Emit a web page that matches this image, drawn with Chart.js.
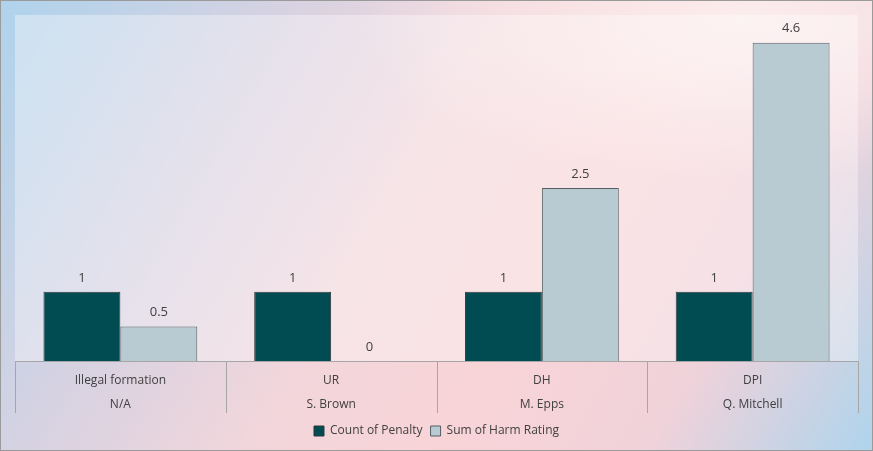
<!DOCTYPE html>
<html>
<head>
<meta charset="utf-8">
<script src="https://cdn.jsdelivr.net/npm/chart.js@4"></script>
<style>
  html, body { margin: 0; padding: 0; }
  body {
    width: 873px; height: 451px; overflow: hidden;
    background:
      radial-gradient(ellipse 45% 35% at 85% 5%, rgba(252,240,240,0.9) 0%, rgba(252,240,240,0) 100%),
      linear-gradient(120deg, #aed3ec 0%, #d6d2e2 25%, #f2d6db 45%, #f8d4d7 62%, #f0d2da 80%, #aed4ec 100%);
  }
  #wrap { position: relative; width: 873px; height: 451px; }
</style>
</head>
<body>
<div id="wrap"><canvas id="penalty-chart"></canvas></div>
<script>
  const penalties = ['Illegal formation', 'UR', 'DH', 'DPI'];
  const players = ['N/A', 'S. Brown', 'M. Epps', 'Q. Mitchell'];
  const countOfPenalty = [1, 1, 1, 1];
  const sumOfHarmRating = [0.5, 0, 2.5, 4.6];

  const labels = penalties.map((p, i) => [p, players[i]]);

  const backdrop = {
    id: 'backdrop',
    beforeDraw(chart) {
      const { ctx, chartArea: a } = chart;
      ctx.save();
      ctx.fillStyle = 'rgba(255,255,255,0.35)';
      ctx.fillRect(a.left, a.top, a.right - a.left, a.bottom - a.top);
      ctx.restore();
    },
    afterDraw(chart) {
      const { ctx, chartArea: a } = chart;
      const n = chart.data.labels.length;
      const step = (a.right - a.left) / n;
      ctx.save();
      ctx.strokeStyle = '#a6a6a6';
      ctx.lineWidth = 1;
      for (let i = 0; i <= n; i++) {
        const px = Math.round(a.left + step * i) + 0.5;
        ctx.beginPath();
        ctx.moveTo(px, a.bottom);
        ctx.lineTo(px, a.bottom + 52);
        ctx.stroke();
      }
      ctx.strokeStyle = '#9a9a9a';
      ctx.strokeRect(0.5, 0.5, chart.width - 1, chart.height - 1);
      ctx.restore();
    }
  };

  const valueLabels = {
    id: 'valueLabels',
    afterDatasetsDraw(chart) {
      const { ctx } = chart;
      ctx.save();
      ctx.font = '13px "Open Sans", sans-serif';
      ctx.fillStyle = '#404040';
      ctx.textAlign = 'center';
      ctx.textBaseline = 'middle';
      chart.data.datasets.forEach((ds, di) => {
        chart.getDatasetMeta(di).data.forEach((bar, i) => {
          ctx.fillText(String(ds.data[i]), bar.x, bar.y - 14);
        });
      });
      ctx.restore();
    }
  };

  new Chart(document.getElementById('penalty-chart'), {
    type: 'bar',
    data: {
      labels: labels,
      datasets: [
        {
          label: 'Count of Penalty',
          data: countOfPenalty,
          backgroundColor: '#014b52',
          borderColor: '#2f3a3c',
          borderWidth: 1,
          barPercentage: 1,
          categoryPercentage: 0.73
        },
        {
          label: 'Sum of Harm Rating',
          data: sumOfHarmRating,
          backgroundColor: '#b9cbd2',
          borderColor: '#555f63',
          borderWidth: 1,
          barPercentage: 1,
          categoryPercentage: 0.73
        }
      ]
    },
    options: {
      responsive: true,
      maintainAspectRatio: false,
      animation: false,
      layout: { padding: { left: 15, right: 15, top: 15, bottom: 4 } },
      scales: {
        y: {
          display: false,
          min: 0,
          max: 5
        },
        x: {
          grid: { display: false, drawTicks: false },
          border: { display: true, color: '#a6a6a6' },
          ticks: {
            padding: 8,
            color: '#404040',
            font: { size: 12, family: '"Open Sans", sans-serif', lineHeight: 2 },
            maxRotation: 0
          },
          afterFit(scale) {
            scale.height = 56;
          }
        }
      },
      plugins: {
        legend: {
          position: 'bottom',
          labels: {
            boxWidth: 10,
            boxHeight: 10,
            color: '#404040',
            font: { size: 12, family: '"Open Sans", sans-serif' },
            padding: 8
          }
        },
        tooltip: { enabled: false }
      }
    },
    plugins: [backdrop, valueLabels]
  });
</script>
</body>
</html>
